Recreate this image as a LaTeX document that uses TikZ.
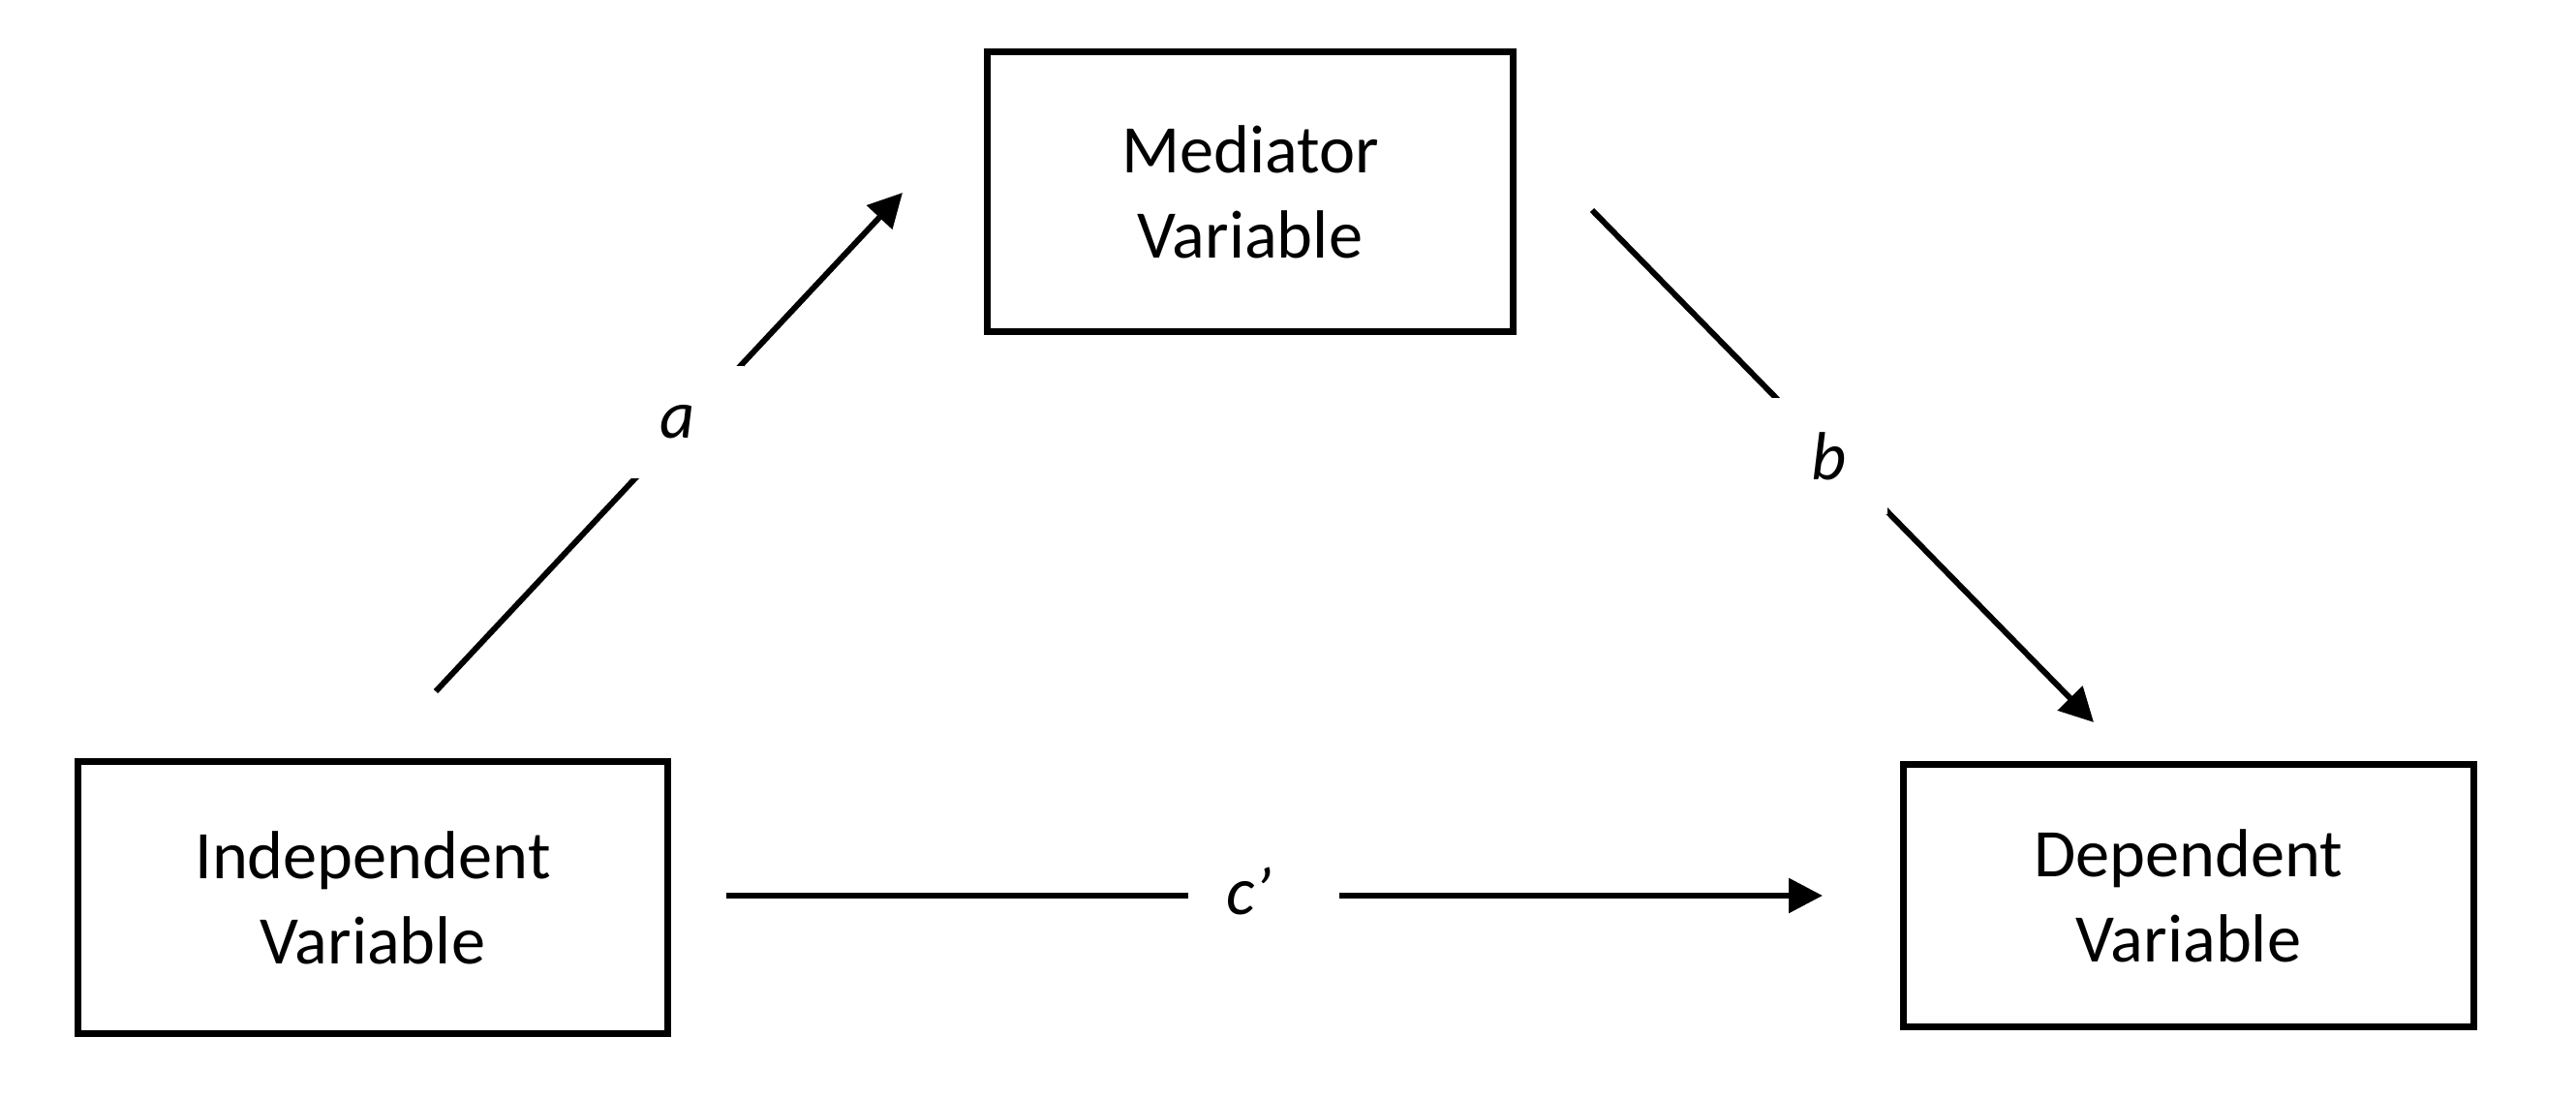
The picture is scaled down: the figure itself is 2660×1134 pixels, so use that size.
\documentclass[tikz,border=0pt]{standalone}
\usepackage{fontspec}
\setmainfont{Carlito}
\usetikzlibrary{arrows.meta}
\begin{document}
\begin{tikzpicture}[x=0.01cm, y=-0.01cm,
    varbox/.style = {draw, line width=2pt, align=center, inner sep=0pt,
                     font=\fontsize{20}{25}\selectfont},
    path/.style = {line width=1.7pt, -{Triangle[length=0.35cm,width=0.35cm]}},
    pathlbl/.style = {fill=white, inner sep=0pt, font=\fontsize{20}{25}\selectfont\itshape}]
                   \useasboundingbox (0,0) rectangle (2660,1134);

                   \node[varbox, minimum width=5.42cm, minimum height=2.89cm] (med) at (1291,198) {Mediator\\Variable};
                   \node[varbox, minimum width=6.08cm, minimum height=2.80cm] (ind) at (385,927) {Independent\\Variable};
                   \node[varbox, minimum width=5.89cm, minimum height=2.70cm] (dep) at (2260,925) {Dependent\\Variable};

                   \coordinate (a0) at (450,714);
                   \coordinate (a1) at (932,199);
                   \coordinate (b0) at (1644,217);
                   \coordinate (b1) at (2162,746);
                   \coordinate (c0) at (750,925);
                   \coordinate (c1) at (1882,925);

                   \draw[path] (a0) -- (a1);
                   \draw[path] (b0) -- (b1);
                   \draw[path] (c0) -- (c1);

                   \node[pathlbl, minimum size=1.16cm] (alab) at (710,436) {\hspace{-0.2cm}\raisebox{-0.08cm}{a}};
                   \node[pathlbl, minimum size=1.2cm] (blab) at (1889,471) {b};
                   \node[pathlbl, minimum width=1.55cm, minimum height=0.6cm] (clab) at (1305,925) {\hspace{-0.3cm}\raisebox{0.1cm}{c’}};

        \end{tikzpicture}
\end{document}
